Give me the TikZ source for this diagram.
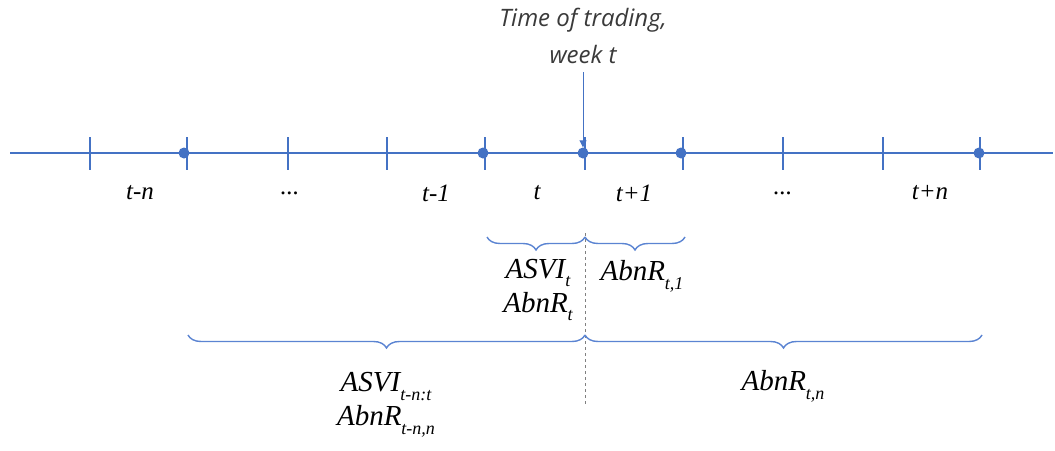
\documentclass[tikz,border=0pt]{standalone}
\usepackage{fontspec}
\usepackage{xcolor}
\usepackage{tikz}
\usetikzlibrary{arrows.meta,positioning,decorations.pathreplacing}
\setmainfont{Liberation Serif}
\newfontfamily\notefont{Open Sans}
\definecolor{AxisBlue}{HTML}{4472C4}
\definecolor{BraceBlue}{HTML}{5B84D2}
\definecolor{NoteGray}{HTML}{3A3A3A}
\newcommand{\lowidx}[1]{\raisebox{-0.3em}{\fontsize{18}{18}\selectfont #1}}

\begin{document}
\begin{tikzpicture}[x=1pt,y=-1pt,
tickmark/.style={AxisBlue,line width=1.1pt},
dot/.style={circle,fill=AxisBlue,inner sep=0pt,minimum size=11pt},
period/.style={font=\fontsize{25}{28}\selectfont\itshape,inner sep=0pt},
measure/.style={font=\fontsize{29}{34}\selectfont\itshape,align=center,inner sep=0pt},
brc/.style={BraceBlue,line width=1.4pt,decorate,decoration={brace,mirror,amplitude=13pt}},
arr/.style={-{Triangle[length=7pt,width=7pt]},AxisBlue,line width=0.9pt}
]
\useasboundingbox (0,0) rectangle (1055,450);
% time axis
\draw[AxisBlue,line width=1.1pt] (10,153) -- (1053,153);
\foreach \x in {90,187,288,387,485,585,683,783,883,980}
  \draw[tickmark] (\x,137) -- (\x,170);
\node[dot] (dl) at (184,153) {};
\node[dot] (dt0) at (483,153) {};
\node[dot] (dt) at (583,153) {};
\node[dot] (dt1) at (681,153) {};
\node[dot] (dr) at (979,153) {};
% period labels
\node[period] (ltn) at (140,193) {t-n};
\node[period] (ldl) at (290,193) {...};
\node[period] (lt1) at (436,193) {t-1};
\node[period] (lt) at (537,193) {t};
\node[period] (ltp) at (634,193) {t+1};
\node[period] (ldr) at (783,193) {...};
\node[period] (lpn) at (930,193) {t+n};
% trading time
\node[font=\fontsize{24}{37}\selectfont\notefont\itshape,text=NoteGray,align=center] (trade) at (583,36) {Time of trading,\\week t};
\draw[arr] ([yshift=-5pt]trade.south -| dt) -- (dt.north);
% windows
\coordinate (s0) at (487,237);
\coordinate (s1) at (585,237);
\coordinate (s2) at (685,237);
\coordinate (b0) at (188,335);
\coordinate (b1) at (585,335);
\coordinate (b2) at (982,335);
\draw[dashed,gray,line width=0.7pt] (585,233) -- (585,405);
\draw[brc] (s0) -- (s1);
\draw[brc] (s1) -- (s2);
\draw[brc] (b0) -- (b1);
\draw[brc] (b1) -- (b2);
\node[measure] (mt) at (538,290) {ASVI\lowidx{t}\\AbnR\lowidx{t}};
\node[measure] (mt1) at (642,276) {AbnR\lowidx{t,1}};
\node[measure] (mb) at (386,405) {ASVI\lowidx{t-n:t}\\AbnR\lowidx{t-n,n}};
\node[measure] (mbn) at (783,386) {AbnR\lowidx{t,n}};
\end{tikzpicture}
\end{document}
